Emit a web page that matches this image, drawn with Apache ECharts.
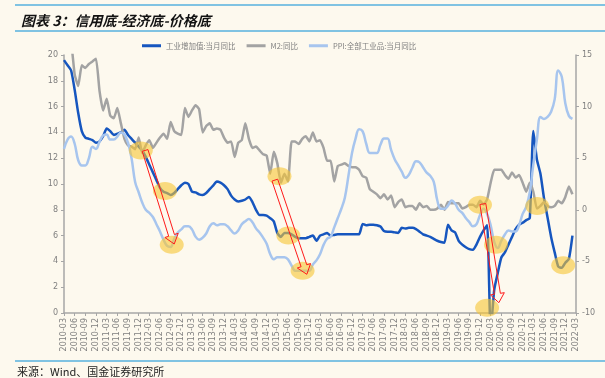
<!DOCTYPE html>
<html><head><meta charset="utf-8">
<script src="https://cdn.jsdelivr.net/npm/echarts@6/dist/echarts.min.js"></script>
<style>html,body{margin:0;padding:0;background:#FDF9EE;}#c{width:605px;height:378px;}</style>
</head><body><div id="c"></div>
<script>
// ---- categories (monthly, 2010-03 .. 2022-03) ----
const firstYear = 2010, firstMonth = 3, monthCount = 145;
const categories = [];
for (let k = 0; k < monthCount; k++) {
  const m = firstMonth - 1 + k;
  const y = firstYear + Math.floor(m / 12);
  const mm = (m % 12) + 1;
  categories.push(y + '-' + (mm < 10 ? '0' : '') + mm);
}
const seriesNames = ['工业增加值:当月同比', 'M2:同比', 'PPI:全部工业品:当月同比'];

// 工业增加值 (left axis)
const ipValues = [
  19.6, 19.2, 18.8, 17.3, 15.5, 14.1, 13.6, 13.5, 13.4, 13.2,
  13.3, 13.7, 14.3, 14.1, 13.8, 13.9, 14.0, 14.2, 13.8, 13.5, 13.2, 12.9,
  12.6, 12.1, 11.5, 10.9, 10.3, 9.7, 9.4, 9.3, 9.15, 9.3, 9.6, 9.9,
  10.1, 10.0, 9.4, 9.35, 9.2, 9.15, 9.3, 9.6, 9.9, 10.2, 10.1, 9.9,
  9.6, 9.1, 8.8, 8.65, 8.7, 8.8, 9.0, 8.6, 8.0, 7.6, 7.6, 7.55,
  7.35, 7.1, 6.2, 5.9, 6.2, 6.2, 6.1, 5.9, 5.8, 5.8, 5.8, 5.9,
  6.0, 5.6, 6.0, 6.1, 6.2, 6.0, 6.05, 6.1, 6.1, 6.1, 6.1, 6.1,
  6.1, 6.1, 6.9, 6.8, 6.85, 6.85, 6.8, 6.7, 6.35, 6.3, 6.3, 6.25,
  6.2, 6.6, 6.55, 6.6, 6.6, 6.5, 6.3, 6.1, 6.0, 5.9, 5.75, 5.6,
  5.5, 5.45, 6.85, 6.4, 6.25, 5.6, 5.3, 5.1, 4.95, 4.9, 5.3, 5.9,
  6.4, 6.8, -1.5, 1.8, 3.1, 4.3, 4.7, 5.3, 5.9, 6.5, 6.85, 7.0,
  7.2, 7.35, 14.1, 11.9, 10.8, 8.9, 7.4, 5.9, 4.7, 3.6, 3.5, 3.9,
  4.2, 6.0, null
];
// M2 (left axis)
const m2Values = [
  22.5, 21.5, 21.0, 18.5, 17.6, 19.2, 19.0, 19.3, 19.5, 19.7,
  17.2, 15.7, 16.6, 15.3, 15.1, 15.9, 14.7, 13.5, 13.0, 12.9, 12.7, 13.6,
  12.4, 13.0, 13.4, 12.8, 13.2, 13.6, 13.9, 13.5, 14.8, 14.1, 13.9, 13.8,
  15.9, 15.2, 15.7, 16.1, 15.8, 14.0, 14.5, 14.7, 14.2, 14.3, 14.2, 13.6,
  13.2, 13.3, 12.1, 13.2, 13.4, 14.7, 13.5, 12.8, 12.9, 12.6, 12.3, 12.2,
  10.8, 12.5, 11.6, 10.1, 10.8, 10.2, 13.3, 13.3, 13.1, 13.5, 13.7, 13.3,
  14.0, 13.3, 13.4, 12.8, 11.8, 11.8, 10.2, 11.4, 11.5, 11.6, 11.4, 11.3,
  11.3, 11.1, 10.6, 10.5, 9.6, 9.4, 9.2, 8.9, 9.2, 8.8, 9.1, 8.2,
  8.6, 8.8, 8.2, 8.3, 8.3, 8.0, 8.5, 8.2, 8.3, 8.0, 8.0, 8.1,
  8.4, 8.0, 8.6, 8.5, 8.5, 8.5, 8.1, 8.2, 8.4, 8.4, 8.2, 8.7,
  8.4, 8.8, 10.1, 11.1, 11.1, 11.1, 10.7, 10.4, 10.9, 10.5, 10.7, 10.1,
  9.4, 10.1, 9.4, 8.1, 8.3, 8.6, 8.3, 8.2, 8.3, 8.7, 8.5, 9.0,
  9.8, 9.2, null
];
// PPI (right axis)
const ppiValues = [
  5.9, 6.8, 7.1, 6.4, 4.8, 4.3, 4.3, 5.0, 6.1, 5.9,
  6.6, 7.2, 7.3, 6.8, 6.8, 7.1, 7.5, 7.3, 6.5, 5.0, 2.7, 1.7,
  0.7, 0.0, -0.3, -0.7, -1.4, -2.1, -2.9, -3.5, -3.6, -2.8, -2.2, -1.9,
  -1.6, -1.6, -1.9, -2.6, -2.9, -2.7, -2.3, -1.6, -1.3, -1.5, -1.4, -1.4,
  -1.6, -2.0, -2.3, -2.0, -1.4, -1.1, -0.9, -1.2, -1.8, -2.2, -2.7, -3.3,
  -4.3, -4.8, -4.6, -4.6, -4.6, -4.8, -5.4, -5.9, -5.9, -5.9, -5.9, -5.9,
  -5.3, -4.9, -4.3, -3.4, -2.8, -2.6, -1.7, -0.8, 0.1, 1.2, 3.3, 5.5,
  6.9, 7.8, 7.6, 6.4, 5.5, 5.5, 5.5, 6.3, 6.9, 6.9, 5.8, 4.9,
  4.3, 3.7, 3.1, 3.4, 4.1, 4.7, 4.6, 4.1, 3.6, 3.3, 2.7, 0.9,
  0.1, 0.1, 0.4, 0.9, 0.6, 0.0, -0.3, -0.8, -1.2, -1.6, -1.4, -0.5,
  0.1, -0.4, -1.5, -3.1, -3.7, -3.0, -2.4, -2.0, -2.1, -2.1, -1.5, -0.4,
  0.3, 1.7, 4.4, 6.8, 9.0, 8.8, 9.0, 9.5, 10.7, 13.5, 12.9, 10.3,
  9.1, 8.8, null
];
const leftAxisTicks = [0, 2, 4, 6, 8, 10, 12, 14, 16, 18, 20];
const rightAxisTicks = [-10, -5, 0, 5, 10, 15];

// annotations in data space: [category index, left-axis value]
const highlightSpots = [
  [21.6, 12.6], [28.4, 9.46], [30.3, 5.3],
  [60.6, 10.6], [63.1, 6.0], [67.1, 3.28],
  [117, 8.4], [121.5, 5.3], [119, 0.4],
  [133.1, 8.3], [140.4, 3.7]
];
// arrows: [tail index, tail value, tip index, tip value] (left-axis units)
const arrowSpecs = [
  [22.8, 12.6, 31.0, 5.35],
  [59.3, 10.3, 68.3, 3.0],
  [117.8, 8.45, 122.3, 0.8]
];

const colors = ['#1656BF', '#A3A3A3', '#A7C5EE'];
const axisColor = '#A6A6A6';
const labelColor = '#7F7F7F';

const chart = echarts.init(document.getElementById('c'));
const option = {
  backgroundColor: '#FDF9EE',
  animation: false,
  title: {
    text: '图表 3：信用底-经济底-价格底', left: 16, top: 9,
    textStyle: { fontSize: 14, fontWeight: 'bold', fontStyle: 'italic', color: '#111', fontFamily: 'Noto Sans CJK SC' }
  },
  legend: {
    data: seriesNames, left: 137, top: 37, itemWidth: 19, itemHeight: 3, itemGap: 11, icon: 'rect',
    textStyle: { fontSize: 7.5, color: '#808080', fontFamily: 'Noto Sans CJK SC' }
  },
  grid: { left: 64, right: 29, top: 55, bottom: 65 },
  xAxis: {
    type: 'category', data: categories, boundaryGap: false,
    axisLine: { lineStyle: { color: axisColor, width: 1.5 } },
    axisTick: { interval: 2, length: 3, lineStyle: { color: axisColor } },
    axisLabel: { interval: 2, rotate: 90, fontSize: 8, color: labelColor, fontFamily: 'DejaVu Sans', margin: 5 }
  },
  yAxis: [
    {
      type: 'value', min: leftAxisTicks[0], max: leftAxisTicks[leftAxisTicks.length - 1], interval: leftAxisTicks[1] - leftAxisTicks[0],
      axisLine: { show: true, lineStyle: { color: axisColor, width: 1.5 } },
      axisTick: { show: true, length: 3, lineStyle: { color: axisColor } },
      axisLabel: { fontSize: 8, color: labelColor, margin: 6, fontFamily: 'DejaVu Sans' },
      splitLine: { show: false }
    },
    {
      type: 'value', position: 'right', min: rightAxisTicks[0], max: rightAxisTicks[rightAxisTicks.length - 1], interval: rightAxisTicks[1] - rightAxisTicks[0],
      axisLine: { show: true, lineStyle: { color: axisColor, width: 1.5 } },
      axisTick: { show: true, length: 3, lineStyle: { color: axisColor } },
      axisLabel: { fontSize: 8, color: labelColor, margin: 6, fontFamily: 'DejaVu Sans' },
      splitLine: { show: false }
    }
  ],
  series: [
    { name: seriesNames[0], type: 'line', data: ipValues, yAxisIndex: 0, showSymbol: false, smooth: 0.2,
      lineStyle: { width: 2.5, color: colors[0] }, itemStyle: { color: colors[0] }, z: 2 },
    { name: seriesNames[1], type: 'line', data: m2Values, yAxisIndex: 0, showSymbol: false, smooth: 0.15,
      lineStyle: { width: 2.5, color: colors[1] }, itemStyle: { color: colors[1] }, z: 3 },
    { name: seriesNames[2], type: 'line', data: ppiValues, yAxisIndex: 1, showSymbol: false, smooth: 0.4,
      lineStyle: { width: 2.5, color: colors[2] }, itemStyle: { color: colors[2] }, z: 4 }
  ]
};
chart.setOption(option);

// pixel helpers through the chart's own scales
const x0 = chart.convertToPixel({ xAxisIndex: 0 }, categories[0]);
const x1 = chart.convertToPixel({ xAxisIndex: 0 }, categories[categories.length - 1]);
const xPix = i => x0 + (x1 - x0) * i / (categories.length - 1);
const yPix = v => chart.convertToPixel({ yAxisIndex: 0 }, v);

const graphics = [];
highlightSpots.forEach(p => {
  graphics.push({ type: 'ellipse', z: 100, shape: { cx: xPix(p[0]), cy: yPix(p[1]), rx: 12, ry: 9 },
    style: { fill: 'rgba(246,196,52,0.6)' } });
});
arrowSpecs.forEach(a => {
  const tx = xPix(a[0]), ty = yPix(a[1]), hx = xPix(a[2]), hy = yPix(a[3]);
  const dx = hx - tx, dy = hy - ty, len = Math.sqrt(dx * dx + dy * dy);
  const ux = dx / len, uy = dy / len, nx = -uy, ny = ux;
  const sw = 3, hw = 7, hl = 9;
  const bx = hx - ux * hl, by = hy - uy * hl;
  const pts = [
    [tx + nx * sw, ty + ny * sw], [bx + nx * sw, by + ny * sw], [bx + nx * hw, by + ny * hw],
    [hx, hy], [bx - nx * hw, by - ny * hw], [bx - nx * sw, by - ny * sw], [tx - nx * sw, ty - ny * sw]
  ];
  graphics.push({ type: 'polygon', z: 110, shape: { points: pts }, style: { fill: 'none', stroke: '#FF1A1A', lineWidth: 1 } });
});
// frame rules and source
[5, 31, 361].forEach(y => {
  graphics.push({ type: 'line', z: 50, shape: { x1: 15, y1: y, x2: 605, y2: y }, style: { stroke: '#56B1DE', lineWidth: 1.5 } });
});
graphics.push({ type: 'text', left: 17, top: 366, z: 50,
  style: { text: '来源：Wind、国金证券研究所', fontSize: 11, fill: '#222', fontFamily: 'Noto Sans CJK SC' } });
chart.setOption({ graphic: graphics });
</script>
</body></html>
